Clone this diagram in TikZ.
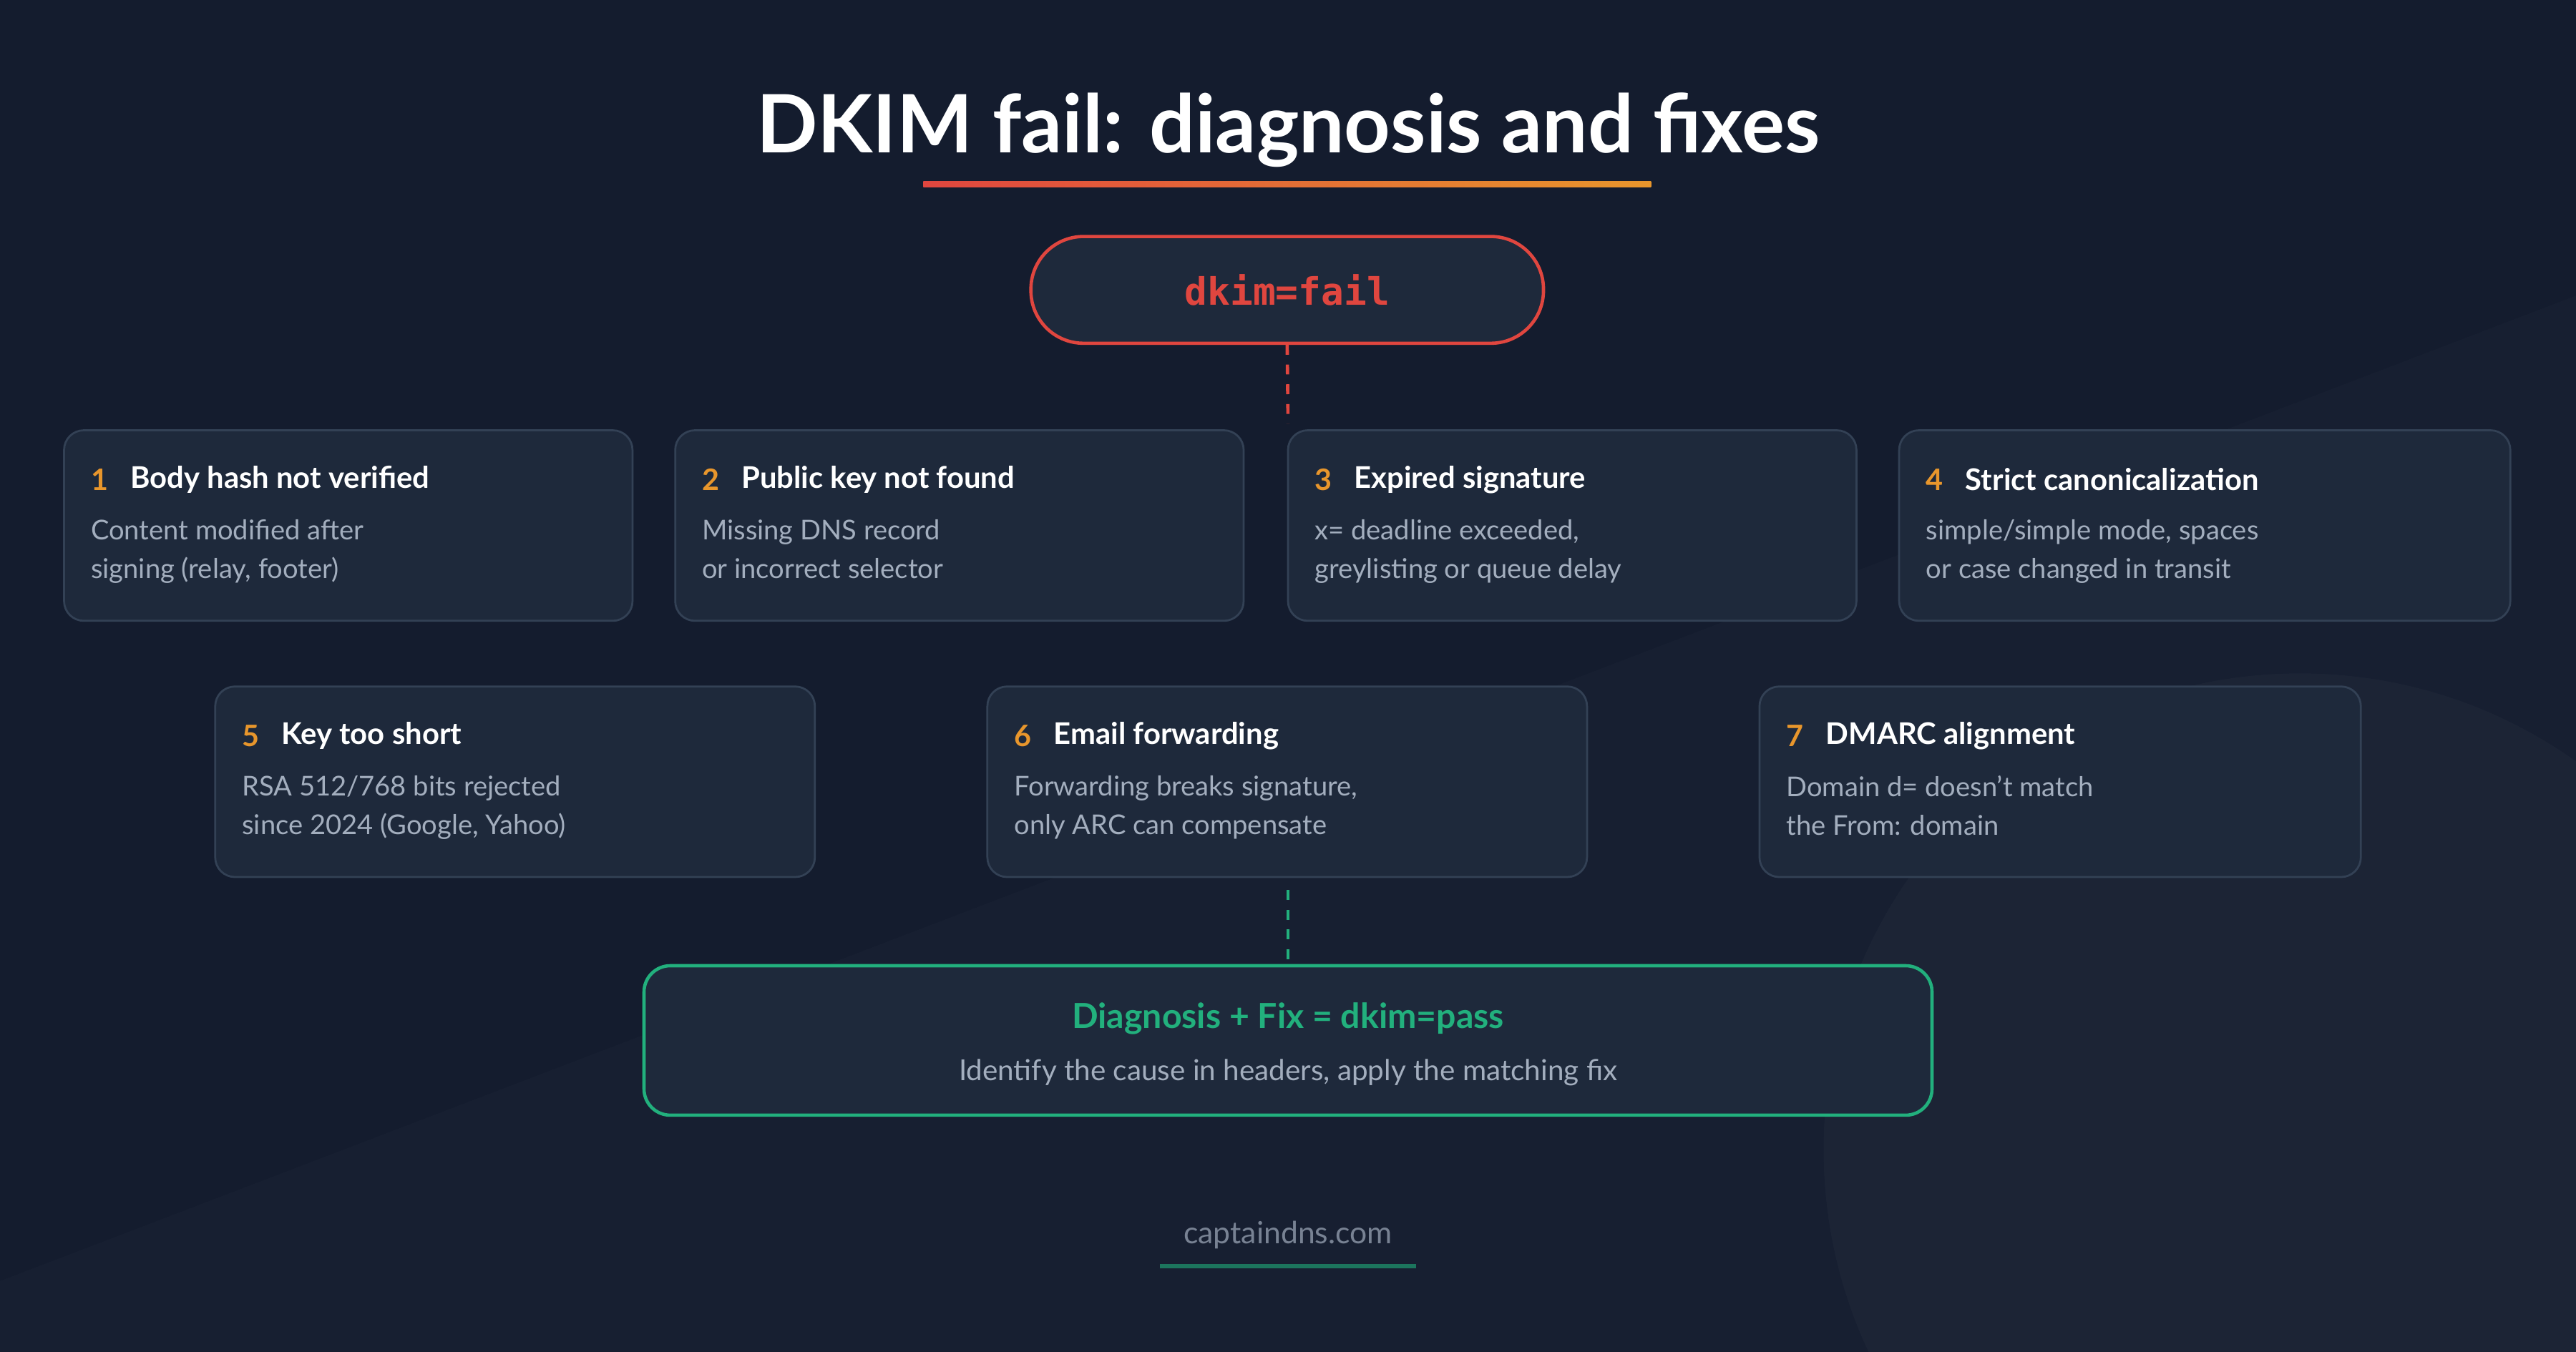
\documentclass[tikz,border=0pt]{standalone}
\usepackage{fontspec}
\setmainfont{Lato}
\newfontfamily\monofont{DejaVu Sans Mono}
\usetikzlibrary{positioning}
\definecolor{bgc}{HTML}{141C2E}
\definecolor{boxc}{HTML}{1E293B}
\definecolor{edgec}{HTML}{334155}
\definecolor{greyc}{HTML}{A3AEBE}
\definecolor{numc}{HTML}{E8962C}
\definecolor{redc}{HTML}{E0463F}
\definecolor{greenc}{HTML}{22B07D}
\tikzset{
  card/.style={draw=edgec, fill=boxc, rounded corners=6pt, line width=0.6pt},
  num/.style={anchor=west, text=numc, font=\fontsize{9}{10}\selectfont\bfseries, inner sep=0pt},
  head/.style={anchor=west, text=white, font=\fontsize{9.1}{10}\selectfont\bfseries, inner sep=0pt},
  body/.style={anchor=north west, text=greyc, align=left, font=\fontsize{8.3}{11.8}\selectfont, inner sep=0pt}
}
\newcommand{\cardbox}[7]{% name, x1, y1, x2, number, head, body
  \draw[card] (#2,#3) rectangle (#4,#3+116);
  \node[num] (#1n) at (#2+16,#3+30) {#5};
  \node[head] (#1h) at (#2+40,#3+30) {#6};
  \node[body] (#1b) at (#2+16,#3+54) {#7};
}
\begin{document}
\begin{tikzpicture}[x=0.5pt, y=-0.5pt]
  % background
  \fill[bgc] (0,0) rectangle (1568,823);
  \useasboundingbox (0,0) rectangle (1568,823);
  \fill[white, opacity=0.025] (1400,700) circle (290);
  \fill[white, opacity=0.015] (0,780) -- (1568,180) -- (1568,823) -- (0,823) -- cycle;

  % title
  \node[text=white, font=\fontsize{24.5}{28}\selectfont\bfseries] (title) at (784,79) {DKIM fail: diagnosis and fixes};
  \shade[left color=redc, right color=numc] (562,110.5) rectangle (1005,114);

  % top pill
  \node[draw=redc, fill=boxc, line width=1pt, rounded corners=16pt, minimum width=156pt, minimum height=32.5pt,
        text=redc, font=\monofont\fontsize{11.5}{13}\selectfont\bfseries] (fail) at (783.5,176.5) {dkim=fail};
  \coordinate (failend) at (784,258);
  \draw[redc, line width=1pt, dash pattern=on 3pt off 3pt] (fail.south) -- (failend);

  % causes
  \cardbox{c1}{39}{262}{385}{1}{Body hash not verified}{Content modified after\\signing (relay, footer)}
  \cardbox{c2}{411}{262}{757}{2}{Public key not found}{Missing DNS record\\or incorrect selector}
  \cardbox{c3}{784}{262}{1130}{3}{Expired signature}{x= deadline exceeded,\\greylisting or queue delay}
  \cardbox{c4}{1156}{262}{1528}{4}{Strict canonicalization}{simple/simple mode, spaces\\or case changed in transit}
  \cardbox{c5}{131}{418}{496}{5}{Key too short}{RSA 512/768 bits rejected\\since 2024 (Google, Yahoo)}
  \cardbox{c6}{601}{418}{966}{6}{Email forwarding}{Forwarding breaks signature,\\only ARC can compensate}
  \cardbox{c7}{1071}{418}{1437}{7}{DMARC alignment}{Domain d= doesn't match\\the From: domain}

  % result
  \node[draw=greenc, fill=boxc, line width=1pt, rounded corners=8pt, minimum width=392pt, minimum height=45.5pt] (fix) at (784,633.5) {};
  \node[text=greenc, font=\fontsize{10.5}{12}\selectfont\bfseries] (fixh) at (784,620) {Diagnosis + Fix = dkim=pass};
  \node[text=greyc, font=\fontsize{8.8}{10}\selectfont] (fixb) at (784,653) {Identify the cause in headers, apply the matching fix};
  \coordinate (fixtop) at (784,542);
  \draw[greenc, line width=1pt, dash pattern=on 3pt off 3pt] (fixtop) -- (fix.north);

  % footer
  \node[text=greyc!70!bgc, font=\fontsize{9.3}{10}\selectfont] (site) at (784,752) {captaindns.com};
  \draw[greenc!60!bgc, line width=1.2pt] (706,771) -- (862,771);
\end{tikzpicture}
\end{document}
